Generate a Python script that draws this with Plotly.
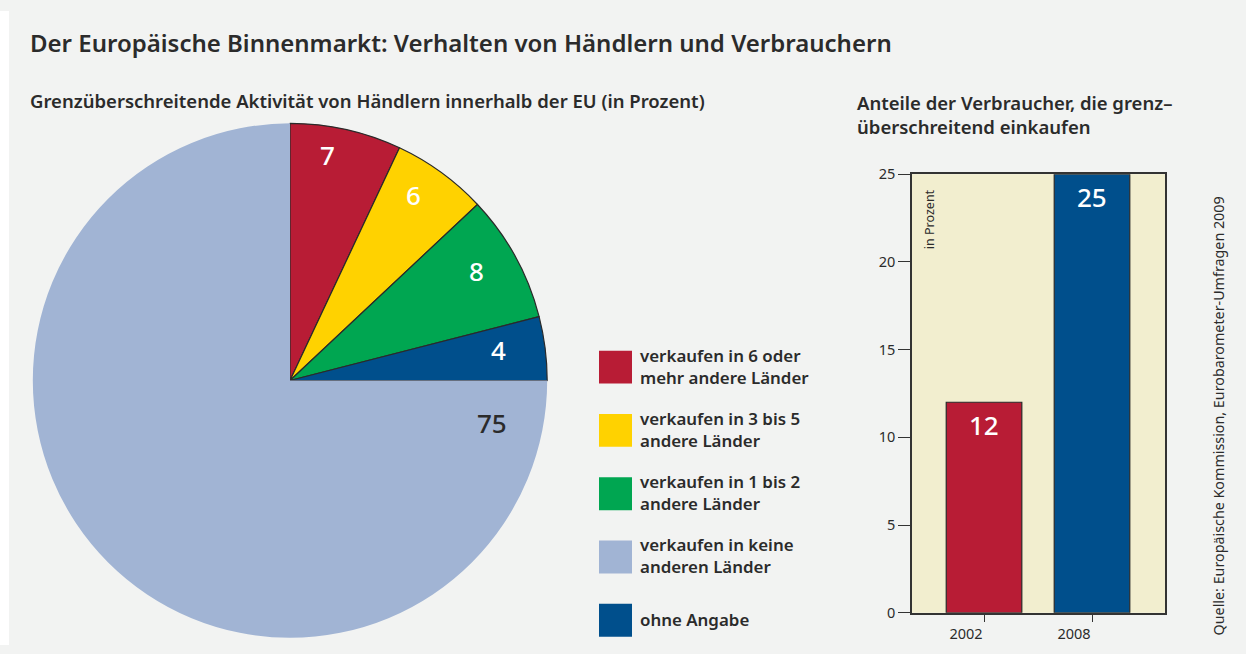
import math
import plotly.graph_objects as go

# ---------------- data ----------------
pie_labels = ["verkaufen in 6 oder<br>mehr andere Länder",
              "verkaufen in 3 bis 5<br>andere Länder",
              "verkaufen in 1 bis 2<br>andere Länder",
              "ohne Angabe",
              "verkaufen in keine<br>anderen Länder"]
pie_values = [7, 6, 8, 4, 75]
pie_colors = ["#b81c35", "#ffd200", "#00a651", "#004f8c", "#a1b4d4"]
legend_order = [0, 1, 2, 4, 3]

bar_years = ["2002", "2008"]
bar_values = [12, 25]
bar_colors = ["#b81c35", "#004f8c"]
y_ticks = [0, 5, 10, 15, 20, 25]

W, H = 1246, 654
HP, YOFF = 636.0, 9.3      # effective drawn paper height / offset observed in the viewer
FONT = "Noto Sans"
TXT = "#2b2b2b"
BG = "#f2f3f2"

def px(x):
    return x / W

def py(y):
    return 1 - (y - YOFF) / HP

fig = go.Figure()

# pie geometry (pixels)
cx, cy, R = 290, 380, 258
fig.add_trace(go.Pie(
    labels=pie_labels, values=pie_values, sort=False, direction="clockwise", rotation=0,
    marker=dict(colors=pie_colors,
                line=dict(color="#2a2a2a", width=[1.2, 1.2, 1.2, 1.2, 0])),
    textinfo="none", hoverinfo="label+value", showlegend=False,
    domain=dict(x=[px(cx - R), px(cx + R)], y=[py(cy + R), py(cy - R)]),
))

# pie value labels, placed from cumulative angles
total = sum(pie_values)
cum = 0
for i, v in enumerate(pie_values):
    mid = (cum + v / 2) / total * 360.0
    cum += v
    if v > 50:
        ang, rr, col = 102.0, 0.80, TXT
    else:
        ang = mid - (3.5 - 2.5 * mid / 90.0)
        rr = 0.90 - 0.09 * mid / 90.0
        col = "white"
    a = math.radians(ang)
    x = cx + rr * R * math.sin(a)
    y = cy - rr * R * math.cos(a)
    fig.add_annotation(x=px(x), y=py(y), xref="paper", yref="paper", text=str(v),
                       showarrow=False, xanchor="center", yanchor="middle",
                       font=dict(family=FONT, size=26, color=col, weight=500))

# legend (squares + text)
for k, idx in enumerate(legend_order):
    top = 350 + k * 63.5
    fig.add_shape(type="rect", xref="paper", yref="paper",
                  x0=px(599), x1=px(632), y0=py(top + 33), y1=py(top),
                  fillcolor=pie_colors[idx], line=dict(width=0))
    fig.add_annotation(x=px(637.5), y=py(top + 15.5), xref="paper", yref="paper",
                       text=pie_labels[idx], showarrow=False, xanchor="left", yanchor="middle",
                       align="left", font=dict(family=FONT, size=16.9, color=TXT, weight=600))

# bar chart
fig.add_trace(go.Bar(
    x=bar_years, y=bar_values, marker=dict(color=bar_colors, line=dict(color="#2a2a2a", width=1.2)),
    width=0.70, textposition="none", showlegend=False, xaxis="x", yaxis="y",
))
for i, v in enumerate(bar_values):
    fig.add_annotation(x=i, y=v, xref="x", yref="y", text=str(v), showarrow=False,
                       yanchor="middle", yshift=-23,
                       font=dict(family=FONT, size=26, color="white", weight=500))

fig.update_layout(
    width=W, height=H, autosize=False, margin=dict(l=0, r=0, t=0, b=0),
    paper_bgcolor=BG, plot_bgcolor="#f2eecf",
    xaxis=dict(domain=[px(912), px(1165)], range=[-0.667, 1.676], type="category",
               showline=True, linecolor="#333", linewidth=1.5, mirror=True,
               ticks="outside", ticklen=7, tickcolor="#333", tickwidth=1.2, ticklabelshift=-18,
               tickfont=dict(family=FONT, size=14.5, color=TXT), showgrid=False, fixedrange=True),
    yaxis=dict(domain=[py(613), py(173)], range=[0, 25], tickvals=y_ticks,
               showline=True, linecolor="#333", linewidth=1.5, mirror=True,
               ticks="outside", ticklen=12, tickcolor="#333", tickwidth=1.2,
               tickfont=dict(family=FONT, size=14.5, color=TXT), showgrid=False, zeroline=False),
)

# white frame strip (left)
fig.add_shape(type="rect", xref="paper", yref="paper", x0=0, x1=px(9), y0=0, y1=1,
              fillcolor="white", line=dict(width=0), layer="below")

# texts
fig.add_annotation(x=px(27.5), y=py(41), xref="paper", yref="paper", xanchor="left", yanchor="middle",
                   text="Der Europäische Binnenmarkt: Verhalten von Händlern und Verbrauchern",
                   showarrow=False, font=dict(family=FONT, size=24, color=TXT, weight=600))
fig.add_annotation(x=px(27.5), y=py(99), xref="paper", yref="paper", xanchor="left", yanchor="middle",
                   text="Grenzüberschreitende Aktivität von Händlern innerhalb der EU (in Prozent)",
                   showarrow=False, font=dict(family=FONT, size=18.5, color=TXT, weight=600))
fig.add_annotation(x=px(855), y=py(113), xref="paper", yref="paper", xanchor="left", yanchor="middle",
                   text="Anteile der Verbraucher, die grenz–<br>überschreitend einkaufen", align="left",
                   showarrow=False, font=dict(family=FONT, size=18.5, color=TXT, weight=600))
fig.add_annotation(x=px(929), y=py(186), xref="paper", yref="paper", xanchor="center", yanchor="top",
                   text="in Prozent", textangle=-90,
                   showarrow=False, font=dict(family=FONT, size=12.5, color=TXT))
fig.add_annotation(x=px(1218), y=py(416), xref="paper", yref="paper", xanchor="center", yanchor="middle",
                   text="Quelle: Europäische Kommission, Eurobarometer-Umfragen 2009", textangle=-90,
                   showarrow=False, font=dict(family=FONT, size=14.3, color=TXT))

post = (
    "document.documentElement.style.background='#f2f3f2';"
    "document.body.style.margin='0';document.body.style.overflow='hidden';"
)
fig.write_html("out.html", config={"displayModeBar": False, "responsive": False}, post_script=post)
